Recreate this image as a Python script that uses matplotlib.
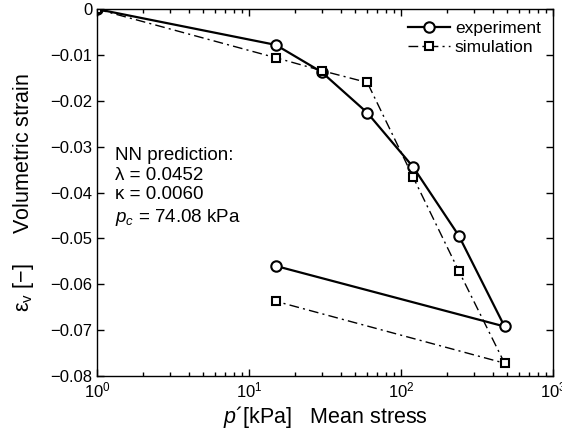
import numpy as np
import matplotlib
matplotlib.use("Agg")
import matplotlib.pyplot as plt
from matplotlib.ticker import LogLocator, FixedLocator, NullLocator

plt.rcParams["font.family"] = ["Liberation Sans", "DejaVu Sans"]
plt.rcParams["mathtext.fontset"] = "custom"
plt.rcParams["mathtext.it"] = "Liberation Sans:italic"
plt.rcParams["mathtext.rm"] = "Liberation Sans"

# mean stress p' [kPa]
p_exp = [1, 15, 30, 60, 120, 240, 480, 15]
eps_exp = [0.0, -0.0078, -0.0137, -0.0226, -0.0344, -0.0494, -0.0692, -0.0560]

p_sim = [1, 15, 30, 60, 120, 240, 480, 15]
eps_sim = [0.0, -0.0106, -0.0134, -0.0160, -0.0366, -0.0571, -0.0772, -0.0637]

y_ticks = [0, -0.01, -0.02, -0.03, -0.04, -0.05, -0.06, -0.07, -0.08]
y_tick_labels = ["0", "\u22120.01", "\u22120.02", "\u22120.03", "\u22120.04",
                 "\u22120.05", "\u22120.06", "\u22120.07", "\u22120.08"]

fig = plt.figure(figsize=(5.62, 4.34), dpi=100)
ax = fig.add_axes([0.1726, 0.1336, 0.8114, 0.8454])

ax.plot(p_exp, eps_exp, "-", color="black", lw=1.6, marker="o", ms=7.5,
        mfc="white", mec="black", mew=1.5, label="experiment")
ax.plot(p_sim, eps_sim, color="black", lw=1.0, ls=(0, (7, 3, 1.5, 3)),
        marker="s", ms=6, mfc="white", mec="black", mew=1.5, label="simulation")

ax.set_xscale("log")
ax.set_xlim(1, 1000)
ax.set_ylim(-0.08, 0)
ax.yaxis.set_major_locator(FixedLocator(y_ticks))
ax.set_yticklabels(y_tick_labels)
ax.yaxis.set_minor_locator(NullLocator())
ax.xaxis.set_major_locator(LogLocator(base=10, numticks=10))
ax.xaxis.set_minor_locator(LogLocator(base=10, subs=np.arange(2, 10), numticks=10))

ax.tick_params(which="both", direction="in", top=True, right=True,
               labelsize=12, width=1)
ax.tick_params(which="major", length=5)
ax.tick_params(which="minor", length=3)
for s in ax.spines.values():
    s.set_linewidth(1)

ax.set_xlabel("$p$\u00b4[kPa]   Mean stress", fontsize=15.5, labelpad=2)
ax.set_ylabel("\u03b5$_\\mathrm{v}$ [\u2212]     Volumetric strain", fontsize=15.5, labelpad=10)

ax.text(0.04, 0.625,
        "NN prediction:\n\u03bb = 0.0452\n\u03ba = 0.0060\n$p_c$ = 74.08 kPa",
        transform=ax.transAxes, ha="left", va="top", fontsize=13.5, linespacing=1.22)

ax.legend(loc="upper right", frameon=False, fontsize=12.5, handlelength=2.4,
          handletextpad=0.3, borderaxespad=0.3, labelspacing=0.2)

fig.savefig("out.png", dpi=100)
